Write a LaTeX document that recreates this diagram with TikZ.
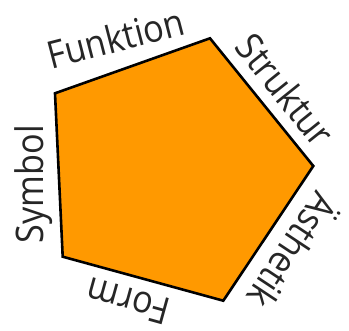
\documentclass[tikz,border=0pt]{standalone}
\usepackage{fontspec}
\setmainfont{Open Sans}[FakeStretch=0.9]
\usepackage{xcolor}
\usepackage{tikz}
\definecolor{pentorange}{RGB}{255,153,0}
\tikzset{
  pent/.style={draw=black,fill=pentorange,line width=2.6bp,line join=miter},
  lbl/.style={anchor=base,inner sep=0pt,text=black!85,font=\fontsize{38bp}{42bp}\selectfont}
}

\begin{document}
\begin{tikzpicture}[x=1bp,y=1bp]
\useasboundingbox (0,0) rectangle (349,331);
% corners of the pentagon
\coordinate (top) at (210,292.7);
\coordinate (rgt) at (313.3,165);
\coordinate (bot) at (223.3,30.3);
\coordinate (bl) at (62.7,74.3);
\coordinate (tl) at (55,237.7);
\draw[pent] (tl) -- (top) -- (rgt) -- (bot) -- (bl) -- cycle;
% labels round the edges
\node[lbl,rotate=14.5] (funktion) at (119.2,279.3) {Funktion};
\node[lbl,rotate=-51.2] (struktur) at (274.6,232.3) {Struktur};
\node[lbl,rotate=-123.5] (aesthetik) at (280.9,88) {Ästhetik};
\node[lbl,rotate=164.5] (form) at (131.5,42.5) {Form};
\node[lbl,rotate=90] (symbol) at (43.5,146.8) {Symbol};
\end{tikzpicture}
\end{document}
